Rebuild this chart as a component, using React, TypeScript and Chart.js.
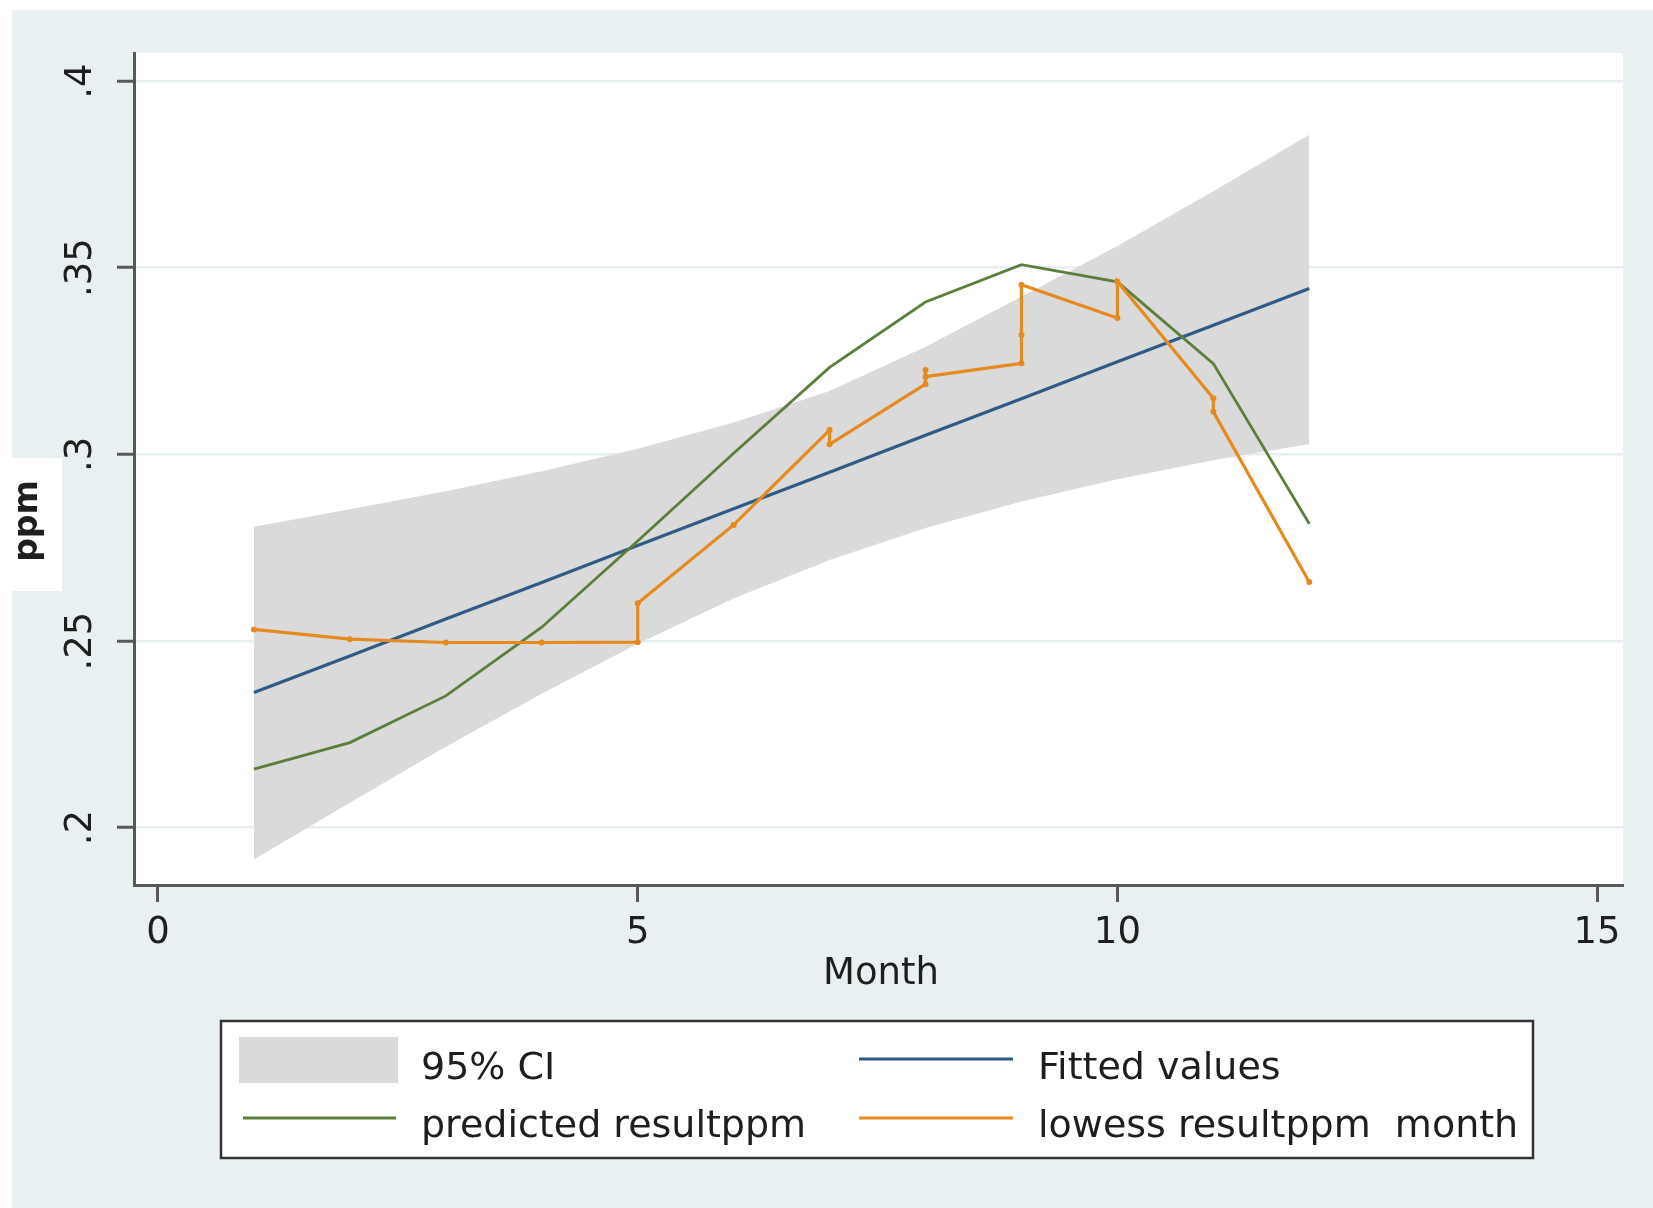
import React, { useEffect, useRef } from "react";
import { Chart, registerables } from "chart.js";

Chart.register(...registerables);

// ---- data ----
const months = [1, 2, 3, 4, 5, 6, 7, 8, 9, 10, 11, 12];
const ciUpperValues = [0.2806, 0.2853, 0.2901, 0.2955, 0.3015, 0.3085, 0.3170, 0.3288, 0.3422, 0.3558, 0.3705, 0.3856];
const ciLowerValues = [0.1915, 0.2067, 0.2217, 0.2359, 0.2493, 0.2614, 0.2717, 0.2803, 0.2874, 0.2933, 0.2984, 0.3028];
const fittedValues = [0.2362, 0.2460, 0.2559, 0.2657, 0.2756, 0.2854, 0.2952, 0.3051, 0.3149, 0.3248, 0.3346, 0.3444];
const predictedValues = [0.2157, 0.2228, 0.2353, 0.2537, 0.2768, 0.3003, 0.3233, 0.3408, 0.3508, 0.3462, 0.3243, 0.2814];
const lowessMonths = [1, 2, 3, 4, 5, 5, 6, 7, 7, 8, 8, 8, 9, 9, 9, 10, 10, 11, 11, 12];
const lowessValues = [0.2531, 0.2505, 0.2496, 0.2496, 0.2497, 0.2601, 0.2811, 0.3065, 0.3027, 0.3188, 0.3226, 0.3208, 0.3244, 0.3320, 0.3454, 0.3365, 0.3463, 0.3150, 0.3114, 0.2658];

const xTickValues = [0, 5, 10, 15];
const xTickLabels = ["0", "5", "10", "15"];
const yTickValues = [0.2, 0.25, 0.3, 0.35, 0.4];
const yTickLabels = [".2", ".25", ".3", ".35", ".4"];

const xTitle = "Month";
const yTitle = "ppm";
const legendLabels = ["95% CI", "Fitted values", "predicted resultppm", "lowess resultppm  month"];

// ---- styles ----
const FONT = '"DejaVu Sans", sans-serif';
const TEXT = "#1e1e1e";
const CI_COLOR = "#dadada";
const FIT_COLOR = "#2f5b86";
const PRED_COLOR = "#5b7f3b";
const LOW_COLOR = "#e68a1f";
const AXIS_COLOR = "#585858";
const GRID_COLOR = "#e7eff2";
const OUTER_BG = "#e8f0f2";

const W = 1653;
const H = 1208;

const decorPlugin = {
  id: "stataDecor",
  beforeDraw(chart: any) {
    const ctx = chart.ctx;
    const a = chart.chartArea;
    ctx.save();
    ctx.fillStyle = "#ffffff";
    ctx.fillRect(0, 0, chart.width, chart.height);
    ctx.fillStyle = OUTER_BG;
    ctx.fillRect(12, 10, chart.width - 12, chart.height - 10);
    ctx.fillStyle = "#ffffff";
    ctx.fillRect(a.left, a.top, a.right - a.left, a.bottom - a.top);
    ctx.fillRect(12, 458, 50, 133);
    ctx.restore();
  },
  afterDraw(chart: any) {
    const ctx = chart.ctx;
    const ys = chart.scales.y;
    ctx.save();
    ctx.fillStyle = TEXT;
    // rotated y tick labels
    ctx.font = `37px ${FONT}`;
    ctx.textAlign = "center";
    ctx.textBaseline = "alphabetic";
    yTickValues.forEach((v, i) => {
      const py = ys.getPixelForValue(v);
      ctx.save();
      ctx.translate(91, py);
      ctx.rotate(-Math.PI / 2);
      ctx.fillText(yTickLabels[i], 0, 0);
      ctx.restore();
    });
    // y title
    ctx.font = `bold 33px ${FONT}`;
    ctx.save();
    ctx.translate(37, 521);
    ctx.rotate(-Math.PI / 2);
    ctx.fillText(yTitle, 0, 0);
    ctx.restore();
    // x title
    ctx.font = `37px ${FONT}`;
    ctx.fillText(xTitle, 881, 984);

    // legend
    ctx.fillStyle = "#ffffff";
    ctx.fillRect(221, 1021, 1312, 137);
    ctx.strokeStyle = "#333333";
    ctx.lineWidth = 2.5;
    ctx.strokeRect(221, 1021, 1312, 137);

    ctx.fillStyle = CI_COLOR;
    ctx.fillRect(239, 1037, 159, 46);

    const drawSwatch = (x1: number, x2: number, y: number, color: string, w: number) => {
      ctx.beginPath();
      ctx.strokeStyle = color;
      ctx.lineWidth = w;
      ctx.moveTo(x1, y);
      ctx.lineTo(x2, y);
      ctx.stroke();
    };
    drawSwatch(859, 1013, 1059, FIT_COLOR, 3);
    drawSwatch(243, 396, 1118, PRED_COLOR, 3);
    drawSwatch(859, 1013, 1118, LOW_COLOR, 3);

    ctx.fillStyle = TEXT;
    ctx.font = `38px ${FONT}`;
    ctx.textAlign = "left";
    ctx.fillText(legendLabels[0], 421, 1079);
    ctx.fillText(legendLabels[1], 1038, 1079);
    ctx.fillText(legendLabels[2], 421, 1137);
    ctx.fillText(legendLabels[3], 1038, 1137);
    ctx.restore();
  },
};

export default function App() {
  const canvasRef = useRef<HTMLCanvasElement | null>(null);

  useEffect(() => {
    const canvas = canvasRef.current;
    if (!canvas) return;
    const upperPts = months.map((m, i) => ({ x: m, y: ciUpperValues[i] }));
    const lowerPts = months.map((m, i) => ({ x: m, y: ciLowerValues[i] }));
    const fitPts = months.map((m, i) => ({ x: m, y: fittedValues[i] }));
    const predPts = months.map((m, i) => ({ x: m, y: predictedValues[i] }));
    const lowPts = lowessMonths.map((m, i) => ({ x: m, y: lowessValues[i] }));

    const chart = new Chart(canvas, {
      type: "line",
      data: {
        datasets: [
          {
            label: "ci lower",
            data: lowerPts,
            borderWidth: 0,
            borderColor: "rgba(0,0,0,0)",
            pointRadius: 0,
            fill: false,
            order: 4,
          },
          {
            label: legendLabels[0],
            data: upperPts,
            borderWidth: 0,
            borderColor: "rgba(0,0,0,0)",
            backgroundColor: CI_COLOR,
            pointRadius: 0,
            fill: "-1",
            order: 3,
          },
          {
            label: legendLabels[1],
            data: fitPts,
            borderColor: FIT_COLOR,
            borderWidth: 3.2,
            pointRadius: 0,
            fill: false,
            order: 2,
          },
          {
            label: legendLabels[2],
            data: predPts,
            borderColor: PRED_COLOR,
            borderWidth: 2.8,
            pointRadius: 0,
            fill: false,
            order: 1,
          },
          {
            label: legendLabels[3],
            data: lowPts,
            borderColor: LOW_COLOR,
            backgroundColor: LOW_COLOR,
            borderWidth: 3.2,
            pointRadius: 3,
            pointBorderWidth: 0,
            pointBackgroundColor: LOW_COLOR,
            fill: false,
            order: 0,
          },
        ],
      } as any,
      options: {
        animation: false,
        responsive: false,
        devicePixelRatio: 1,
        layout: { padding: { top: 53, right: 30, left: 0, bottom: 0 } },
        elements: { line: { tension: 0 } },
        plugins: {
          legend: { display: false },
          tooltip: { enabled: false },
          title: { display: false },
        },
        scales: {
          x: {
            type: "linear",
            min: -0.25,
            max: 15.27,
            afterBuildTicks: (s: any) => {
              s.ticks = xTickValues.map((v) => ({ value: v }));
            },
            afterFit: (s: any) => {
              s.height = H - 885;
            },
            grid: {
              drawOnChartArea: false,
              color: AXIS_COLOR,
              tickColor: AXIS_COLOR,
              tickLength: 17,
              tickWidth: 3,
            },
            border: { display: true, color: AXIS_COLOR, width: 3 },
            ticks: {
              padding: 9,
              maxRotation: 0,
              minRotation: 0,
              color: TEXT,
              font: { family: "DejaVu Sans", size: 37 },
              callback: (v: any) => {
                const i = xTickValues.indexOf(Number(v));
                return i >= 0 ? xTickLabels[i] : "";
              },
            },
          },
          y: {
            type: "linear",
            min: 0.18465,
            max: 0.4075,
            afterBuildTicks: (s: any) => {
              s.ticks = yTickValues.map((v) => ({ value: v }));
            },
            afterFit: (s: any) => {
              s.width = 134;
            },
            grid: {
              color: GRID_COLOR,
              lineWidth: 2.5,
              tickColor: AXIS_COLOR,
              tickLength: 17,
              tickWidth: 3,
            },
            border: { display: true, color: AXIS_COLOR, width: 3 },
            ticks: { display: false },
          },
        },
      } as any,
      plugins: [decorPlugin],
    });
    return () => chart.destroy();
  }, []);

  return (
    <div style={{ position: "absolute", left: 0, top: 0, width: W, height: H }}>
      <canvas ref={canvasRef} width={W} height={H} style={{ display: "block", width: W, height: H }} />
    </div>
  );
}
